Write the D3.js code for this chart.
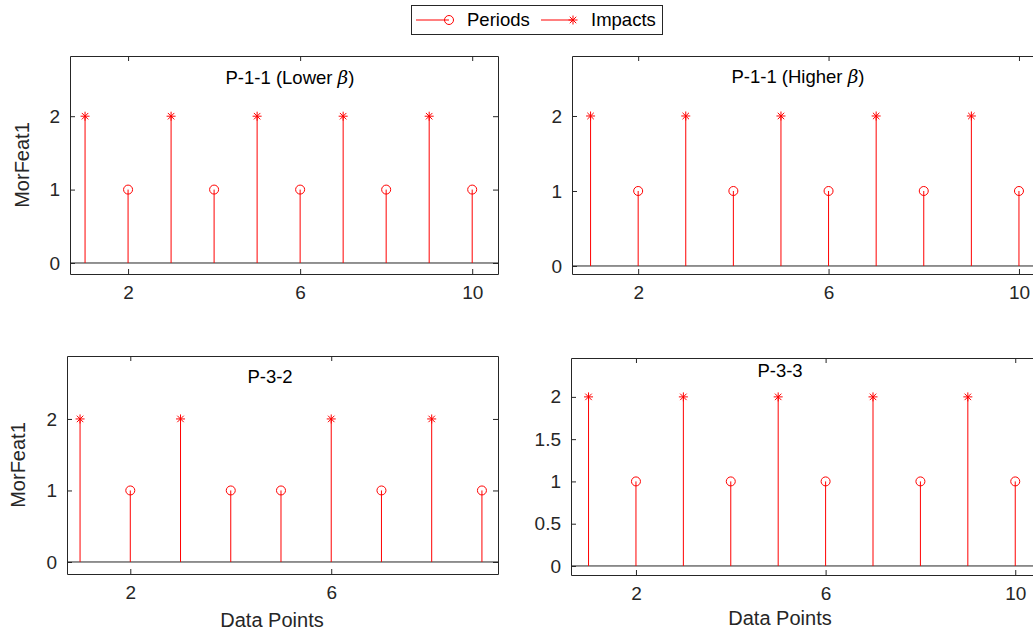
<!DOCTYPE html>
<html>
<head>
<meta charset="utf-8">
<script src="https://cdn.jsdelivr.net/npm/d3@7"></script>
<style>
  body { margin: 0; background: #fff; }
  svg { display: block; font-family: "Liberation Sans", Arial, sans-serif; }
</style>
</head>
<body>
<div id="container"></div>
<script>
// data
const tlX = [1, 2, 3, 4, 5, 6, 7, 8, 9, 10]
const tlY = [2, 1, 2, 1, 2, 1, 2, 1, 2, 1]
const trX = [1, 2, 3, 4, 5, 6, 7, 8, 9, 10]
const trY = [2, 1, 2, 1, 2, 1, 2, 1, 2, 1]
const blX = [1, 2, 3, 4, 5, 6, 7, 8, 9]
const blY = [2, 1, 2, 1, 1, 2, 1, 2, 1]
const brX = [1, 2, 3, 4, 5, 6, 7, 8, 9, 10]
const brY = [2, 1, 2, 1, 2, 1, 2, 1, 2, 1]
// 2 = Impacts (asterisk), 1 = Periods (circle)
const titles = ["P-1-1 (Lower ", "P-1-1 (Higher ", "P-3-2", "P-3-3"]
const yLabel = "MorFeat1"
const xLabel = "Data Points"
const legendNames = ["Periods", "Impacts"]

const W = 1033, H = 632
const axisCol = "#262626"
const red = "#ff0000"

const panels = [
  { xs: tlX, ys: tlY, box: [70, 498, 56, 274], xd: [0.65, 10.6], yd: [-0.15, 2.82],
    xt: [2, 6, 10], yt: [0, 1, 2], title: titles[0], beta: true, tx: 290, ty: 78, ylab: [22, 165] },
  { xs: trX, ys: trY, box: [572, 1038, 56, 274], xd: [0.61, 10.4], yd: [-0.107, 2.8],
    xt: [2, 6, 10], yt: [0, 1, 2], title: titles[1], beta: true, tx: 798, ty: 77 },
  { xs: blX, ys: blY, box: [67, 498, 356, 574], xd: [0.74, 9.32], yd: [-0.168, 2.88],
    xt: [2, 6], yt: [0, 1, 2], title: titles[2], tx: 270, ty: 377, ylab: [18, 465], xlab: [272, 620] },
  { xs: brX, ys: brY, box: [571, 1038, 358, 575], xd: [0.63, 10.48], yd: [-0.107, 2.46],
    xt: [2, 6, 10], yt: [0, 0.5, 1, 1.5, 2], title: titles[3], tx: 780, ty: 371, xlab: [780, 618] }
]

const svg = d3.select("#container").append("svg")
  .attr("width", W).attr("height", H)

function asterisk(g, cx, cy, s) {
  const d = s * 0.72
  const path = `M${cx - s},${cy}L${cx + s},${cy}M${cx},${cy - s}L${cx},${cy + s}` +
    `M${cx - d},${cy - d}L${cx + d},${cy + d}M${cx - d},${cy + d}L${cx + d},${cy - d}`
  g.append("path").attr("d", path).attr("stroke", red).attr("stroke-width", 1).attr("fill", "none")
}

const fmt = d => String(d)

panels.forEach(p => {
  const [x0, x1, y0, y1] = p.box
  const x = d3.scaleLinear().domain(p.xd).range([x0, x1])
  const y = d3.scaleLinear().domain(p.yd).range([y1, y0])
  const g = svg.append("g")

  // bottom axis + mirrored top ticks
  g.append("g").attr("transform", `translate(0,${y1})`)
    .call(d3.axisBottom(x).tickValues(p.xt).tickFormat(fmt).tickSizeInner(-5).tickSizeOuter(0).tickPadding(12))
  g.append("g").attr("transform", `translate(0,${y0})`)
    .call(d3.axisTop(x).tickValues(p.xt).tickSizeInner(-5).tickSizeOuter(0).tickFormat(""))
  g.append("g").attr("transform", `translate(${x0},0)`)
    .call(d3.axisLeft(y).tickValues(p.yt).tickFormat(fmt).tickSizeInner(-5).tickSizeOuter(0).tickPadding(10))
  g.append("g").attr("transform", `translate(${x1},0)`)
    .call(d3.axisRight(y).tickValues(p.yt).tickSizeInner(-5).tickSizeOuter(0).tickFormat(""))

  g.selectAll(".domain").attr("stroke", axisCol)
  g.selectAll(".tick line").attr("stroke", axisCol)
  g.selectAll(".tick text").attr("fill", axisCol).style("font-size", "19px")
    .style("font-family", "'Liberation Sans', Arial, sans-serif")

  // baseline at 0
  g.append("line").attr("x1", x0).attr("x2", x1).attr("y1", y(0)).attr("y2", y(0))
    .attr("stroke", axisCol).attr("stroke-width", 1)

  const pts = p.xs.map((v, i) => ({ x: v, y: p.ys[i] }))
  g.selectAll(".stem").data(pts).join("line")
    .attr("class", "stem")
    .attr("x1", d => x(d.x)).attr("x2", d => x(d.x))
    .attr("y1", y(0)).attr("y2", d => y(d.y))
    .attr("stroke", red).attr("stroke-width", 1)

  g.selectAll(".per").data(pts.filter(d => d.y === 1)).join("circle")
    .attr("class", "per")
    .attr("cx", d => x(d.x)).attr("cy", d => y(d.y)).attr("r", 4.5)
    .attr("fill", "none").attr("stroke", red).attr("stroke-width", 1)

  pts.filter(d => d.y === 2).forEach(d => asterisk(g, x(d.x), y(d.y), 4.5))

  const t = g.append("text").attr("x", p.tx).attr("y", p.ty).attr("dy", "0.35em")
    .attr("text-anchor", "middle").style("font-size", "18.5px").attr("fill", "#000")
    .text(p.title)
  if (p.beta) {
    t.append("tspan").style("font-style", "italic").style("font-family", "'DejaVu Serif', serif").text("β")
    t.append("tspan").text(")")
  }

  if (p.ylab) {
    g.append("text").attr("transform", `translate(${p.ylab[0]},${p.ylab[1]}) rotate(-90)`)
      .attr("dy", "0.35em").attr("text-anchor", "middle").style("font-size", "20px")
      .attr("fill", axisCol).text(yLabel)
  }
  if (p.xlab) {
    g.append("text").attr("x", p.xlab[0]).attr("y", p.xlab[1]).attr("dy", "0.35em")
      .attr("text-anchor", "middle").style("font-size", "20px")
      .attr("fill", axisCol).text(xLabel)
  }
})

// legend
const lg = svg.append("g")
lg.append("rect").attr("x", 411.5).attr("y", 5.5).attr("width", 251).attr("height", 29)
  .attr("fill", "#fff").attr("stroke", axisCol).attr("stroke-width", 1)
lg.append("line").attr("x1", 416).attr("x2", 449).attr("y1", 20).attr("y2", 20).attr("stroke", red)
lg.append("circle").attr("cx", 449).attr("cy", 20).attr("r", 4.5).attr("fill", "none").attr("stroke", red)
lg.append("text").attr("x", 467).attr("y", 20).attr("dy", "0.35em").style("font-size", "18.5px")
  .attr("fill", "#000").text(legendNames[0])
lg.append("line").attr("x1", 541).attr("x2", 573).attr("y1", 20).attr("y2", 20).attr("stroke", red)
asterisk(lg, 573, 20, 4.5)
lg.append("text").attr("x", 591).attr("y", 20).attr("dy", "0.35em").style("font-size", "18.5px")
  .attr("fill", "#000").text(legendNames[1])
</script>
</body>
</html>
